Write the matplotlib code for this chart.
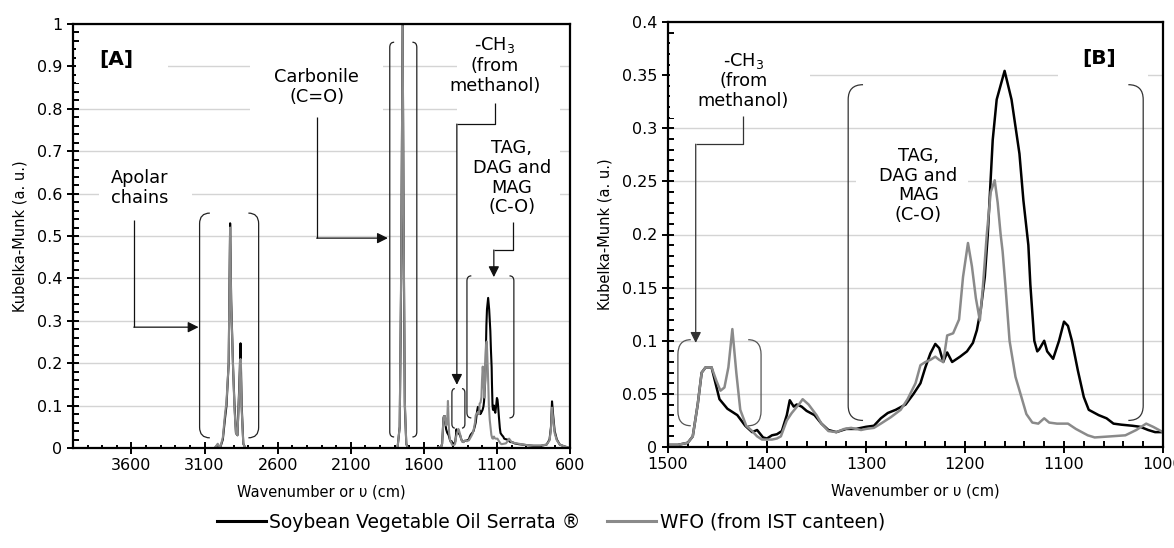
import numpy as np
import matplotlib
matplotlib.use("Agg")
import matplotlib.pyplot as plt
from matplotlib.path import Path
from matplotlib.patches import PathPatch, Rectangle
from matplotlib.ticker import FixedLocator, MultipleLocator, FuncFormatter
from matplotlib.lines import Line2D

plt.rcParams['font.family'] = ['DejaVu Sans']
plt.rcParams['mathtext.fontset'] = 'dejavusans'

# ---------------- data ----------------
series_names = ["Soybean Vegetable Oil Serrata \u00ae", "WFO (from IST canteen)"]

# C-H stretching region (panel A)
wn_apolar = [3030, 3010, 3000, 2990, 2975, 2960, 2950, 2935, 2925, 2918, 2905,
             2895, 2885, 2875, 2862, 2854, 2846, 2835, 2820]
soy_apolar = [0.0, 0.008, 0.003, 0.004, 0.02, 0.07, 0.10, 0.20, 0.53, 0.35, 0.19,
              0.10, 0.035, 0.03, 0.15, 0.247, 0.10, 0.01, 0.0]
wfo_apolar = [0.0, 0.010, 0.004, 0.005, 0.025, 0.08, 0.11, 0.20, 0.52, 0.34, 0.19,
              0.09, 0.035, 0.03, 0.14, 0.21, 0.09, 0.01, 0.0]

# carbonyl region (panel A)
wn_carbonyl = [1780, 1765, 1755, 1745, 1738, 1730, 1720, 1710]
soy_carbonyl = [0.0, 0.05, 0.40, 1.00, 0.50, 0.10, 0.01, 0.0]
wfo_carbonyl = [0.0, 0.05, 0.42, 0.995, 0.52, 0.11, 0.01, 0.0]

# fingerprint 1500-1000 cm-1 (panel B and panel A)
wn_soy = [1500, 1490, 1480, 1475, 1470, 1466, 1462, 1456, 1452, 1448, 1440, 1430,
          1422, 1415, 1410, 1404, 1400, 1395, 1390, 1385, 1380, 1377, 1373, 1370,
          1365, 1360, 1352, 1345, 1338, 1330, 1320, 1310, 1300, 1292, 1285, 1278,
          1270, 1260, 1252, 1245, 1240, 1235, 1230, 1226, 1222, 1218, 1213, 1205,
          1198, 1192, 1188, 1184, 1180, 1177, 1172, 1168, 1160, 1153, 1145, 1141,
          1136, 1134, 1130, 1127, 1125, 1120, 1117, 1111, 1105, 1100, 1096, 1092,
          1086, 1080, 1075, 1065, 1057, 1050, 1042, 1031, 1023, 1015, 1008, 1000]
soy_km = [0.002, 0.002, 0.004, 0.010, 0.040, 0.070, 0.075, 0.075, 0.060, 0.045, 0.036, 0.030,
          0.020, 0.014, 0.016, 0.009, 0.008, 0.011, 0.012, 0.015, 0.030, 0.044, 0.038, 0.040,
          0.038, 0.034, 0.030, 0.022, 0.016, 0.014, 0.017, 0.017, 0.019, 0.020, 0.027, 0.032,
          0.035, 0.040, 0.050, 0.060, 0.075, 0.088, 0.097, 0.093, 0.080, 0.089, 0.080, 0.085,
          0.090, 0.098, 0.110, 0.130, 0.160, 0.200, 0.289, 0.327, 0.354, 0.327, 0.276, 0.232,
          0.190, 0.153, 0.100, 0.090, 0.092, 0.100, 0.090, 0.083, 0.100, 0.118, 0.114, 0.100,
          0.072, 0.047, 0.035, 0.030, 0.027, 0.022, 0.021, 0.020, 0.019, 0.016, 0.014, 0.014]

wn_wfo = [1500, 1490, 1480, 1475, 1470, 1466, 1462, 1456, 1451, 1447, 1443, 1439,
          1435, 1431, 1427, 1421, 1415, 1410, 1405, 1395, 1390, 1386, 1380, 1375,
          1367, 1364, 1358, 1350, 1345, 1338, 1330, 1322, 1315, 1305, 1300, 1292,
          1285, 1275, 1265, 1258, 1250, 1245, 1240, 1235, 1230, 1226, 1222, 1218,
          1212, 1206, 1202, 1197, 1193, 1189, 1185, 1182, 1178, 1174, 1170, 1167,
          1164, 1162, 1159, 1155, 1149, 1143, 1138, 1132, 1126, 1120, 1115, 1107,
          1096, 1088, 1076, 1069, 1053, 1038, 1027, 1017, 1010, 1000]
wfo_km = [0.002, 0.002, 0.004, 0.010, 0.040, 0.070, 0.075, 0.075, 0.062, 0.053, 0.056, 0.075,
          0.111, 0.070, 0.035, 0.020, 0.015, 0.010, 0.007, 0.007, 0.008, 0.010, 0.025, 0.032,
          0.041, 0.045, 0.040, 0.030, 0.022, 0.015, 0.014, 0.017, 0.018, 0.016, 0.017, 0.018,
          0.022, 0.028, 0.035, 0.045, 0.060, 0.077, 0.080, 0.082, 0.085, 0.082, 0.080, 0.105,
          0.107, 0.120, 0.160, 0.192, 0.170, 0.140, 0.119, 0.150, 0.200, 0.240, 0.251, 0.230,
          0.200, 0.184, 0.150, 0.100, 0.066, 0.047, 0.031, 0.023, 0.022, 0.027, 0.023, 0.022,
          0.022, 0.017, 0.011, 0.009, 0.010, 0.011, 0.016, 0.022, 0.019, 0.014]

# 1000-600 cm-1 tail (panel A only)
wn_tail = [990, 980, 950, 900, 850, 800, 760, 740, 730, 723, 716, 705, 690, 670, 640, 620, 605]
soy_tail = [0.013, 0.011, 0.009, 0.007, 0.005, 0.005, 0.008, 0.020, 0.050, 0.110, 0.080,
            0.040, 0.020, 0.008, 0.004, 0.002, 0.0]
wfo_tail = [0.013, 0.012, 0.010, 0.007, 0.006, 0.006, 0.008, 0.018, 0.045, 0.095, 0.070,
            0.035, 0.018, 0.008, 0.004, 0.002, 0.0]

xticks_a = [3600, 3100, 2600, 2100, 1600, 1100, 600]
xlabel = "Wavenumber or \u03c5 (cm)"
ylabel = "Kubelka-Munk (a. u.)"

# ---------------- style ----------------
BLACK = "#000000"
GREY = "#8a8a8a"
GRID = "#d4d4d4"
LW = 1.5

fig = plt.figure(figsize=(11.74, 5.48), dpi=100)
axA = fig.add_axes([73/1174, 100/548, 497/1174, 424/548])
axB = fig.add_axes([668/1174, 101/548, 495/1174, 425/548])

gfmt = FuncFormatter(lambda v, p: "%g" % round(v, 4))


def style_axis(ax):
    ax.set_axisbelow(True)
    ax.yaxis.grid(True, which='major', color=GRID, lw=1.0)
    for s in ax.spines.values():
        s.set_linewidth(1.6)
        s.set_color('black')
    ax.tick_params(which='major', direction='inout', length=9, width=1.4,
                   labelsize=11.5, colors='black', pad=3)
    ax.tick_params(which='minor', direction='in', length=4, width=1.4)
    ax.yaxis.set_major_formatter(gfmt)
    ax.xaxis.set_major_formatter(gfmt)
    ax.set_xlabel(xlabel, fontsize=10.5, labelpad=8)
    ax.set_ylabel(ylabel, fontsize=10.5, labelpad=7)


def bracket(ax, xl, xr, yb, yt, w, h, color="#222222", lw=0.9):
    s = 1 if xr > xl else -1
    for x0, d in ((xl, s), (xr, -s)):
        verts = [(x0 + d * w, yt), (x0, yt), (x0, yt - h), (x0, yb + h),
                 (x0, yb), (x0 + d * w, yb)]
        codes = [Path.MOVETO, Path.CURVE3, Path.CURVE3, Path.LINETO,
                 Path.CURVE3, Path.CURVE3]
        ax.add_patch(PathPatch(Path(verts, codes), fill=False, edgecolor=color,
                               lw=lw, zorder=3))


def elbow_arrow(ax, pts, color="#111111", lw=0.9, ms=16):
    xs = [p[0] for p in pts[:-1]]
    ys = [p[1] for p in pts[:-1]]
    ax.plot(xs, ys, color=color, lw=lw, zorder=3, solid_capstyle='butt')
    ax.annotate("", xy=pts[-1], xytext=pts[-2],
                arrowprops=dict(arrowstyle='-|>', color=color, lw=lw,
                                mutation_scale=ms, shrinkA=0, shrinkB=0),
                zorder=3)


def whitebox(ax, x0, x1, y0, y1):
    ax.add_patch(Rectangle((min(x0, x1), y0), abs(x1 - x0), y1 - y0,
                           facecolor='white', edgecolor='none', zorder=1))


TXT = dict(ha='center', va='center', fontsize=12.8, linespacing=1.12, zorder=4)

# ---------------- panel A ----------------
axA.plot(wn_apolar, soy_apolar, color=BLACK, lw=LW, zorder=2)
axA.plot(wn_apolar, wfo_apolar, color=GREY, lw=LW, zorder=2.1)
axA.plot(wn_carbonyl, soy_carbonyl, color=BLACK, lw=LW, zorder=2)
axA.plot(wn_carbonyl, wfo_carbonyl, color=GREY, lw=LW, zorder=2.1)
axA.plot(wn_soy + wn_tail, soy_km + soy_tail, color=BLACK, lw=LW, zorder=2)
axA.plot(wn_wfo + wn_tail, wfo_km + wfo_tail, color=GREY, lw=LW, zorder=2.1)

axA.set_xlim(4000, 600)
axA.set_ylim(0, 1)
axA.xaxis.set_major_locator(FixedLocator(xticks_a))
axA.xaxis.set_minor_locator(FixedLocator([v for v in range(700, 4000, 100) if v not in xticks_a]))
axA.yaxis.set_major_locator(MultipleLocator(0.1))
axA.yaxis.set_minor_locator(MultipleLocator(0.02))
style_axis(axA)
axA.tick_params(axis='x', which='minor', length=2.5)

whitebox(axA, 3980, 3353, 0.86, 0.95)
whitebox(axA, 2792, 1881, 0.78, 0.92)
whitebox(axA, 3819, 3189, 0.575, 0.65)
whitebox(axA, 1374, 669, 0.79, 0.97)
whitebox(axA, 1374, 669, 0.56, 0.72)

axA.text(3703, 0.917, "[A]", ha='center', va='center', fontsize=14.5, fontweight='bold', zorder=4)
axA.text(2333, 0.851, "Carbonile\n(C=O)", **TXT)
axA.text(3545, 0.613, "Apolar\nchains", **TXT)
axA.text(1114, 0.903, "-CH$_3$\n(from\nmethanol)", **TXT)
axA.text(997, 0.637, "TAG,\nDAG and\nMAG\n(C-O)", **TXT)

elbow_arrow(axA, [(2333, 0.78), (2333, 0.495), (1846, 0.495)])
elbow_arrow(axA, [(3584, 0.538), (3584, 0.285), (3141, 0.285)])
elbow_arrow(axA, [(1114, 0.814), (1114, 0.764), (1374, 0.764), (1374, 0.149)])
elbow_arrow(axA, [(990, 0.533), (990, 0.467), (1121, 0.467), (1121, 0.403)])

bracket(axA, 3134, 2730, 0.024, 0.554, 70, 0.025)
bracket(axA, 1833, 1648, 0.026, 0.957, 30, 0.012)
bracket(axA, 1408, 1319, 0.047, 0.140, 20, 0.01)
bracket(axA, 1305, 984, 0.071, 0.406, 30, 0.012)

# ---------------- panel B ----------------
axB.plot(wn_soy, soy_km, color=BLACK, lw=LW + 0.3, zorder=2)
axB.plot(wn_wfo, wfo_km, color=GREY, lw=LW + 0.3, zorder=2.1)
axB.set_xlim(1500, 1000)
axB.set_ylim(0, 0.4)
axB.xaxis.set_major_locator(MultipleLocator(100))
axB.xaxis.set_minor_locator(MultipleLocator(20))
axB.yaxis.set_major_locator(MultipleLocator(0.05))
axB.yaxis.set_minor_locator(MultipleLocator(0.01))
style_axis(axB)

whitebox(axB, 1498, 1357, 0.31, 0.385)
whitebox(axB, 1310, 1197, 0.21, 0.275)
whitebox(axB, 1106, 1015, 0.335, 0.39)

axB.text(1065, 0.366, "[B]", ha='center', va='center', fontsize=14.5, fontweight='bold', zorder=4)
axB.text(1424, 0.345, "-CH$_3$\n(from\nmethanol)", **TXT)
axB.text(1247, 0.246, "TAG,\nDAG and\nMAG\n(C-O)", **TXT)

elbow_arrow(axB, [(1424, 0.312), (1424, 0.285), (1472, 0.285), (1472, 0.098)], color="#333333")
bracket(axB, 1490, 1406, 0.020, 0.101, 13, 0.014, color="#555555")
bracket(axB, 1318, 1020, 0.025, 0.341, 15, 0.014, color="#333333")

# ---------------- legend ----------------
handles = [Line2D([], [], color=BLACK, lw=2.2), Line2D([], [], color=GREY, lw=2.2)]
fig.legend(handles, series_names, loc='center left', bbox_to_anchor=(200/1174, 26/548),
           ncol=2, frameon=False, fontsize=13.5, handlelength=2.6, handletextpad=0.2,
           columnspacing=1.4)

fig.savefig("out.png", dpi=100)
